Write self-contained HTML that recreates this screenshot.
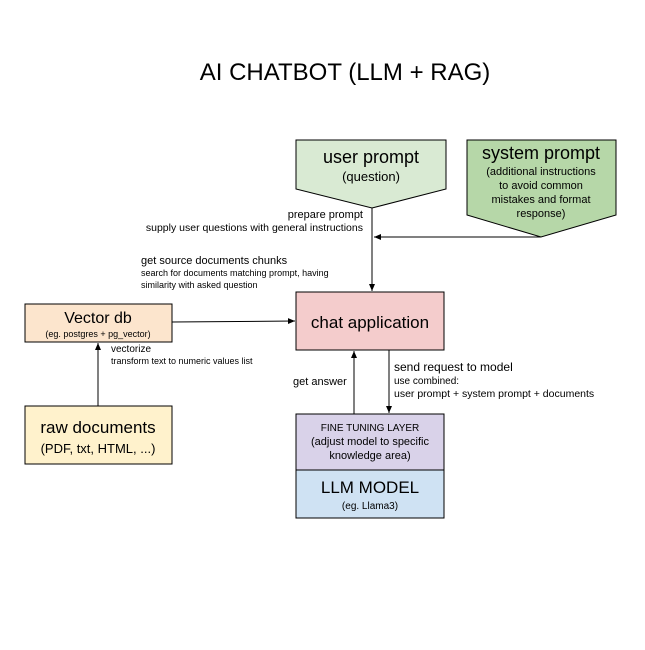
<!DOCTYPE html>
<html><head><style>
body{margin:0;background:#fff}
svg text{font-family:"Liberation Sans",Arial,sans-serif;fill:#000}
</style></head><body>
<svg width="645" height="645" xmlns="http://www.w3.org/2000/svg">
<defs><marker id="a" markerWidth="8" markerHeight="8" refX="7" refY="4" orient="auto" markerUnits="userSpaceOnUse"><path d="M0,1 L7,4 L0,7z" fill="#000"/></marker></defs>
<text x="345" y="80" font-size="24" text-anchor="middle">AI CHATBOT (LLM + RAG)</text>
<polygon points="296,140 446,140 446,189 372,208 296,189" fill="#d9ead3" stroke="#000"/>
<text x="371" y="163" font-size="18" text-anchor="middle">user prompt</text>
<text x="371" y="181" font-size="13" text-anchor="middle">(question)</text>
<polygon points="467,140 616,140 616,215 541,237 467,215" fill="#b6d7a8" stroke="#000"/>
<text x="541" y="159" font-size="18" text-anchor="middle">system prompt</text>
<text x="541" y="175" font-size="11" text-anchor="middle">(additional instructions</text>
<text x="541" y="189" font-size="11" text-anchor="middle">to avoid common</text>
<text x="541" y="203" font-size="11" text-anchor="middle">mistakes and format</text>
<text x="541" y="217" font-size="11" text-anchor="middle">response)</text>
<line x1="372" y1="208" x2="372" y2="291" stroke="#000" marker-end="url(#a)"/>
<line x1="541" y1="237" x2="374" y2="237" stroke="#000" marker-end="url(#a)"/>
<text x="363" y="218" font-size="11" text-anchor="end">prepare prompt</text>
<text x="363" y="231" font-size="10.5" text-anchor="end">supply user questions with general instructions</text>
<text x="141" y="264" font-size="11">get source documents chunks</text>
<text x="141" y="276" font-size="9">search for documents matching prompt, having</text>
<text x="141" y="288" font-size="9">similarity with asked question</text>
<rect x="296" y="292" width="148" height="58" fill="#f4cccc" stroke="#000"/>
<text x="370" y="328" font-size="17" text-anchor="middle">chat application</text>
<rect x="25" y="304" width="147" height="38" fill="#fce5cd" stroke="#000"/>
<text x="98" y="323" font-size="16" text-anchor="middle">Vector db</text>
<text x="98" y="337" font-size="9" text-anchor="middle">(eg. postgres + pg_vector)</text>
<line x1="172" y1="322" x2="295" y2="321" stroke="#000" marker-end="url(#a)"/>
<rect x="25" y="406" width="147" height="58" fill="#fff2cc" stroke="#000"/>
<text x="98" y="433" font-size="17" text-anchor="middle">raw documents</text>
<text x="98" y="453" font-size="13" text-anchor="middle">(PDF, txt, HTML, ...)</text>
<line x1="98" y1="406" x2="98" y2="343" stroke="#000" marker-end="url(#a)"/>
<text x="111" y="352" font-size="10">vectorize</text>
<text x="111" y="364" font-size="9">transform text to numeric values list</text>
<rect x="296" y="414" width="148" height="56" fill="#d9d2e9" stroke="#000"/>
<text x="370" y="431" font-size="10" text-anchor="middle">FINE TUNING LAYER</text>
<text x="370" y="445" font-size="11" text-anchor="middle">(adjust model to specific</text>
<text x="370" y="459" font-size="11" text-anchor="middle">knowledge area)</text>
<rect x="296" y="470" width="148" height="48" fill="#cfe2f3" stroke="#000"/>
<text x="370" y="493" font-size="17" text-anchor="middle">LLM MODEL</text>
<text x="370" y="509" font-size="10" text-anchor="middle">(eg. Llama3)</text>
<line x1="354" y1="414" x2="354" y2="351" stroke="#000" marker-end="url(#a)"/>
<line x1="389" y1="350" x2="389" y2="413" stroke="#000" marker-end="url(#a)"/>
<text x="293" y="385" font-size="11">get answer</text>
<text x="394" y="371" font-size="12">send request to model</text>
<text x="394" y="384" font-size="10">use combined:</text>
<text x="394" y="397" font-size="10.5">user prompt + system prompt + documents</text>
</svg>
</body></html>
